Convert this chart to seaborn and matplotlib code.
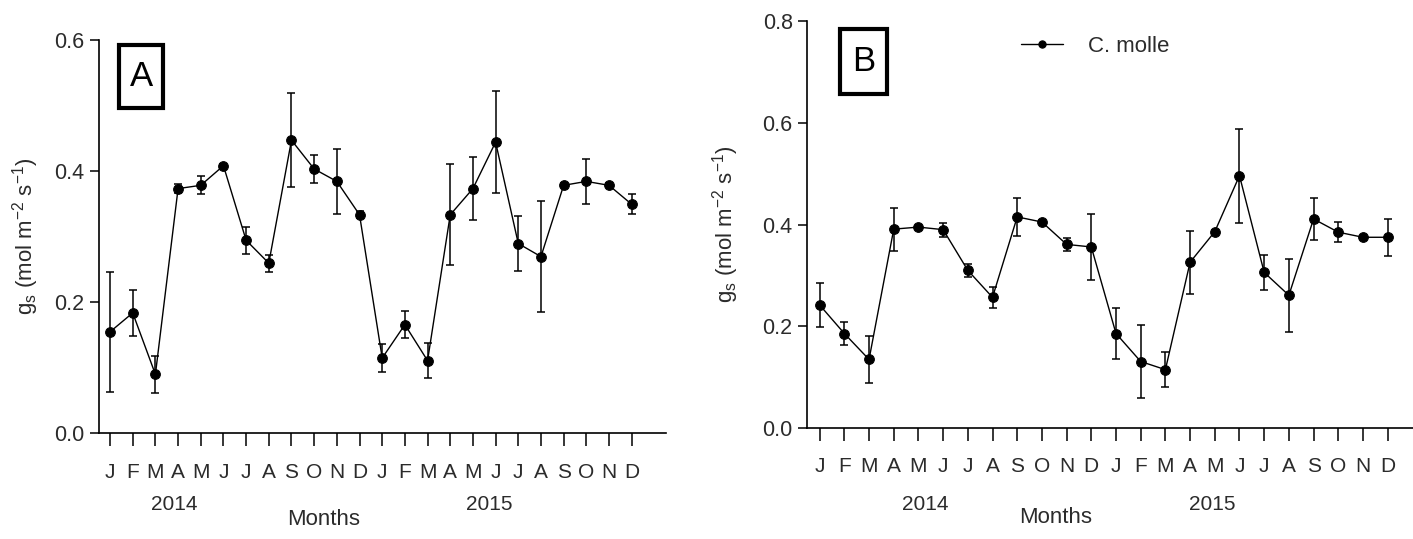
import matplotlib
matplotlib.use("Agg")
import matplotlib.pyplot as plt
import matplotlib.patches as patches
import pandas as pd
import seaborn as sns

# month letters for the two years
months = ["J", "F", "M", "A", "M", "J", "J", "A", "S", "O", "N", "D"] * 2
years = ["2014", "2015"]

# panel A: stomatal conductance, mean and error
gs_a = [0.154, 0.183, 0.089, 0.373, 0.378, 0.408, 0.294, 0.259, 0.447, 0.403, 0.384, 0.333,
        0.114, 0.165, 0.110, 0.333, 0.373, 0.444, 0.289, 0.269, 0.378, 0.384, 0.378, 0.349]
err_a = [0.092, 0.035, 0.028, 0.007, 0.014, 0.003, 0.021, 0.013, 0.072, 0.021, 0.050, 0.005,
         0.021, 0.021, 0.027, 0.077, 0.048, 0.078, 0.042, 0.085, 0.003, 0.035, 0.003, 0.015]

# panel B: C. molle
gs_b = [0.242, 0.186, 0.135, 0.391, 0.395, 0.390, 0.310, 0.257, 0.415, 0.405, 0.361, 0.356,
        0.186, 0.131, 0.115, 0.326, 0.386, 0.496, 0.306, 0.261, 0.411, 0.385, 0.375, 0.375]
err_b = [0.044, 0.022, 0.047, 0.042, 0.003, 0.014, 0.013, 0.021, 0.037, 0.003, 0.013, 0.065,
         0.050, 0.072, 0.035, 0.062, 0.003, 0.092, 0.035, 0.072, 0.042, 0.020, 0.003, 0.036]

sns.set_theme(style="ticks")
plt.rcParams["font.family"] = ["Liberation Sans", "DejaVu Sans"]
plt.rcParams["text.color"] = "#2b2b2b"
plt.rcParams["axes.labelcolor"] = "#2b2b2b"
plt.rcParams["xtick.color"] = "black"
plt.rcParams["ytick.color"] = "black"
plt.rcParams["xtick.labelcolor"] = "#2b2b2b"
plt.rcParams["ytick.labelcolor"] = "#2b2b2b"

W, H = 1413, 539
fig = plt.figure(figsize=(W / 100, H / 100), dpi=100)
fig.patch.set_facecolor("white")

PX = 0.72  # pixel -> points at 100 dpi


def draw_panel(ax, gs, err, ymax, ystep, lab_pad, ylab_px, year_pos, year_off,
               months_pos, months_off, label=None):
    df = pd.DataFrame({"idx": range(len(gs)), "gs": gs, "err": err})
    sns.lineplot(data=df, x="idx", y="gs", ax=ax, color="black", marker="o",
                 markersize=7, markeredgecolor="black", linewidth=1.0,
                 errorbar=None, label=label, legend=False)
    ax.errorbar(df["idx"], df["gs"], yerr=df["err"], fmt="none", ecolor="black",
                elinewidth=1.1, capsize=2.8, capthick=1.1)

    ax.set_xlim(-0.5, 24.5)
    ax.set_ylim(0, ymax)
    ticks = [round(i * ystep, 1) for i in range(int(round(ymax / ystep)) + 1)]
    ax.set_yticks(ticks)
    ax.set_yticklabels([f"{t:.1f}" for t in ticks])
    ax.set_xticks(df["idx"])
    ax.set_xticklabels(months)

    ax.tick_params(axis="x", direction="out", length=9.4, width=1.1, pad=lab_pad,
                   labelsize=15)
    ax.tick_params(axis="y", direction="out", length=6.5, width=1.1, pad=4,
                   labelsize=15.5)
    for side in ["top", "right"]:
        ax.spines[side].set_visible(False)
    for side in ["left", "bottom"]:
        ax.spines[side].set_linewidth(1.2)
        ax.spines[side].set_color("black")

    ax.set_xlabel("")
    ax.set_ylabel(r"g$_\mathregular{s}$ (mol m$^\mathregular{-2}$ s$^\mathregular{-1}$)",
                  fontsize=16)
    width_px = ax.get_position().width * W
    ax.yaxis.set_label_coords(ylab_px / width_px, 0.5)

    for yr, xp in zip(years, year_pos):
        ax.annotate(yr, xy=(xp, 0), xycoords=("data", "axes fraction"),
                    xytext=(0, -year_off * PX), textcoords="offset points",
                    ha="center", va="center", fontsize=15)
    ax.annotate("Months", xy=(months_pos, 0), xycoords=("data", "axes fraction"),
                xytext=(0, -months_off * PX), textcoords="offset points",
                ha="center", va="center", fontsize=16)


def letter_box(letter, x0, y0, x1, y1):
    rect = patches.Rectangle((x0 / W, 1 - y1 / H), (x1 - x0) / W, (y1 - y0) / H,
                             transform=fig.transFigure, fill=False,
                             edgecolor="black", linewidth=3.0)
    fig.add_artist(rect)
    fig.text((x0 + x1) / 2 / W, 1 - (y0 + y1) / 2 / H, letter, ha="center",
             va="center", fontsize=25, color="black")


ax_a = fig.add_axes([98.7 / W, 1 - 432.6 / H, (665.7 - 98.7) / W, (432.6 - 40.1) / H])
draw_panel(ax_a, gs_a, err_a, 0.6, 0.2, 12.5, -58, [2.83, 16.7], 72, 9.4, 87)

ax_b = fig.add_axes([807.3 / W, 1 - 428.2 / H, (1424.7 - 807.3) / W, (428.2 - 20.9) / H])
draw_panel(ax_b, gs_b, err_b, 0.8, 0.2, 11, -66, [4.26, 15.9], 76, 9.55, 89,
           label="C. molle")
ax_b.legend(loc="center left", bbox_to_anchor=(0.346, 0.937), frameon=False,
            fontsize=16, handlelength=1.9, handletextpad=1.1, borderpad=0,
            borderaxespad=0, markerscale=0.75)

letter_box("A", 119, 45, 163, 108)
letter_box("B", 840, 29, 887, 94)

fig.savefig("out.png", dpi=100)
